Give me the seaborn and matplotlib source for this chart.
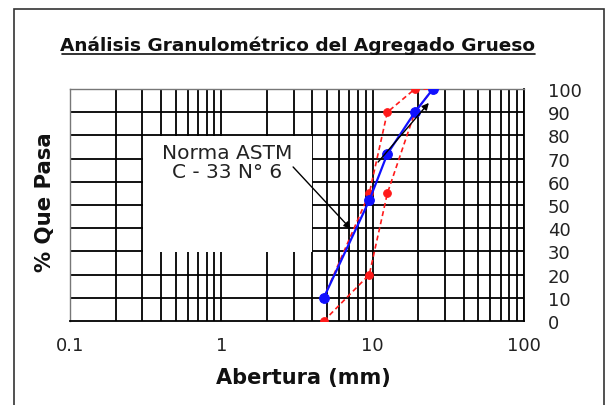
import matplotlib
matplotlib.use("Agg")
import matplotlib.pyplot as plt
from matplotlib.patches import Rectangle
from matplotlib.lines import Line2D
import numpy as np
import pandas as pd
import seaborn as sns

# Sieve openings (mm) and percent passing
abertura = [4.75, 9.5, 12.5, 19.0, 25.0]
muestra = [10, 52, 72, 90, 100]
limite_sup = [10, 55, 90, 100, 100]
limite_inf = [0, 20, 55, 90, 100]

x_ticks = [0.1, 1, 10, 100]
x_tick_labels = ["0.1", "1", "10", "100"]
y_ticks = list(range(0, 101, 10))

df = pd.DataFrame({
    "abertura": abertura * 3,
    "pasa": muestra + limite_sup + limite_inf,
    "serie": ["muestra"] * 5 + ["sup"] * 5 + ["inf"] * 5,
})

sns.set_style("white")
plt.rcParams["font.family"] = ["DejaVu Sans"]

W, H = 611, 406
fig = plt.figure(figsize=(W / 100, H / 100), dpi=100)
ax = fig.add_axes([70 / W, 1 - 322 / H, (524 - 70) / W, (322 - 90) / H])

ax.set_xscale("log")
ax.set_xlim(0.1, 100)
ax.set_ylim(0, 100)

# grid: every log subdivision vertically, every 10 % horizontally
for dec in [0.1, 1, 10]:
    for m in range(1, 10):
        v = dec * m
        if v > 0.1:
            ax.axvline(v, color="black", lw=1.3, zorder=1)
ax.axvline(100, color="black", lw=1.3, zorder=1)
for yv in y_ticks[1:]:
    ax.axhline(yv, color="black", lw=1.3, zorder=1)

# blank panel behind the annotation text
ax.add_patch(Rectangle((0.305, 29.6), 3.95 - 0.305, 79.6 - 29.6,
                       facecolor="white", edgecolor="none", zorder=2))

# specification limits (dashed red) and sample curve (blue)
for name in ["sup", "inf"]:
    sub = df[df["serie"] == name]
    sns.lineplot(data=sub, x="abertura", y="pasa", ax=ax, color="#ff1a1a",
                 lw=1.2, linestyle=(0, (3, 2)), marker="o", markersize=5.5,
                 markeredgecolor="#ff1a1a", sort=False, zorder=4, legend=False)
sub = df[df["serie"] == "muestra"]
sns.lineplot(data=sub, x="abertura", y="pasa", ax=ax, color="#1010ff",
             lw=1.6, marker="o", markersize=7, markeredgecolor="#1010ff",
             sort=False, zorder=5, legend=False)

ax.text(1.09, 68.5, "Norma ASTM\nC - 33 N° 6", ha="center", va="center",
        fontsize=14.5, color="#222222", linespacing=1.0, zorder=6)
arrow_kw = dict(arrowstyle="-|>", color="black", lw=1.0,
                mutation_scale=10, shrinkA=0, shrinkB=0)
ax.annotate("", xy=(7.16, 39.7), xytext=(2.98, 66.4), arrowprops=arrow_kw, zorder=6)
ax.annotate("", xy=(23.5, 94), xytext=(10.86, 68.5), arrowprops=arrow_kw, zorder=6)

ax.set_xticks(x_ticks)
ax.set_xticklabels(x_tick_labels, fontsize=13, color="#222222")
ax.xaxis.set_minor_locator(matplotlib.ticker.NullLocator())
ax.tick_params(axis="x", direction="out", length=5, width=1.3, color="black", pad=6)
ax.yaxis.tick_right()
ax.set_yticks(y_ticks)
ax.set_yticklabels([str(v) for v in y_ticks], fontsize=13, color="#222222")
ax.tick_params(axis="y", length=0, pad=17)
for s in ["left", "top"]:
    ax.spines[s].set_color("#777777")
    ax.spines[s].set_linewidth(1.0)
ax.spines["bottom"].set_color("black")
ax.spines["bottom"].set_linewidth(1.3)
ax.spines["right"].set_color("black")
ax.spines["right"].set_linewidth(1.3)

ax.set_xlabel("")
ax.set_ylabel("")
fig.text(303 / W, 1 - 378 / H, "Abertura (mm)", ha="center", va="center",
         fontsize=15, fontweight="bold", color="#111111")
fig.text(45 / W, 1 - 202 / H, "% Que Pasa", ha="center", va="center",
         rotation=90, fontsize=15.3, fontweight="bold", color="#111111")

fig.text(298 / W, 1 - 46 / H, "Análisis Granulométrico del Agregado Grueso",
         ha="center", va="center", fontsize=13.3, fontweight="bold", color="#111111")
fig.add_artist(Line2D([62 / W, 535 / W], [1 - 54.5 / H, 1 - 54.5 / H],
                      color="#111111", lw=1.2, transform=fig.transFigure))

# outer frame
fig.add_artist(Rectangle((13.5 / W, -0.05), (604 - 13.5) / W, 1 - 10 / H + 0.05,
                         fill=False, edgecolor="#333333", lw=1.2,
                         transform=fig.transFigure))

fig.savefig("out.png", dpi=100)
